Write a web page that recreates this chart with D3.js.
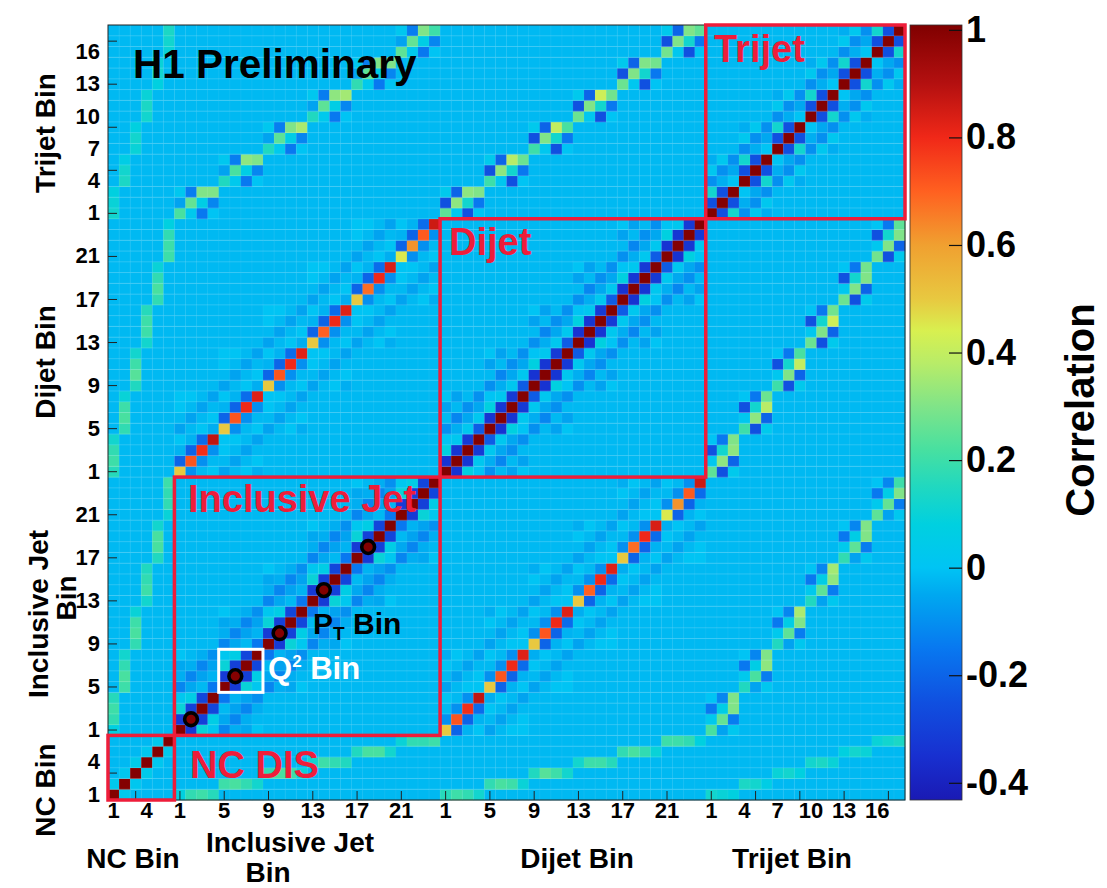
<!DOCTYPE html>
<html lang="en">
<head>
<meta charset="UTF-8">
<style>
  body { margin: 0; background: #fff; overflow: hidden; }
  svg { display: block; }
  text { font-family: "Liberation Sans", Arial, Helvetica, sans-serif; font-weight: bold; }
</style>
</head>
<body>
<svg id="chart" width="1107" height="888"></svg>
<script src="https://cdnjs.cloudflare.com/ajax/libs/d3/7.8.5/d3.min.js"></script>
<script>
// ---- data ----
const blockNames = ["NC", "Inclusive Jet", "Dijet", "Trijet"];
const blockSizes = [6, 24, 24, 18];
const blockGroup = [1, 4, 4, 3];   // pT bins inside one Q2 bin
const nQ2 = 6;
const background = -0.02;

// tick labels (global bin index -> label)
const tickBins = [0, 3, 6, 10, 14, 18, 22, 26, 30, 34, 38, 42, 46, 50, 54, 57, 60, 63, 66, 69];
const tickLabels = ["1", "4", "1", "5", "9", "13", "17", "21", "1", "5", "9", "13", "17", "21", "1", "4", "7", "10", "13", "16"];
const tickMarkBins = [2, 6, 10, 14, 18, 22, 26, 30, 34, 38, 42, 46, 50, 54, 58, 62, 66, 70];

// NC DIS neighbours (i, i+1)
const ncNeighbour = [0.03, 0.02, 0.04, 0.02, 0.03];

// within one Q2 bin / between neighbouring Q2 bins
const inclSameQ2 = [[1, -0.32, 0.10, 0.02], [-0.32, 1, -0.30, 0.06], [0.10, -0.30, 1, -0.28], [0.02, 0.06, -0.28, 1]];
const inclNextQ2 = [[-0.12, -0.04, -0.05, 0.00], [-0.05, -0.12, -0.04, -0.02], [-0.02, -0.06, -0.12, -0.04], [-0.15, -0.03, -0.06, -0.10]];
const dijetSameQ2 = [[1, -0.34, 0.08, 0.00], [-0.34, 1, -0.33, 0.02], [0.08, -0.33, 1, -0.32], [0.00, 0.02, -0.32, 1]];
const dijetNextQ2 = [[-0.10, -0.02, -0.06, 0.00], [-0.04, -0.12, -0.02, -0.06], [0.02, -0.05, -0.10, -0.02], [-0.22, 0.02, -0.05, -0.10]];
const trijetSameQ2 = [[1, -0.25, 0.12], [-0.25, 1, -0.25], [0.12, -0.25, 1]];
const trijetNextQ2 = [[-0.10, 0.02, -0.04], [-0.04, -0.10, 0.02], [0.00, -0.05, -0.10]];

// inclusive jet vs dijet
const inclDijetDiag = [0.50, 0.72, 0.79, 0.88, 0.50, 0.72, 0.80, 0.83, 0.50, 0.72, 0.80, 0.83,
                       0.50, 0.70, 0.80, 0.83, 0.50, 0.68, 0.80, 0.84, 0.45, 0.62, 0.71, 0.86];
const inclDijetSameQ2 = [[null, -0.20, -0.03, 0.00], [-0.10, null, -0.20, -0.03], [-0.02, -0.10, null, -0.18], [0.00, -0.02, -0.10, null]];
const inclDijetNextQ2 = [[-0.06, -0.02, 0.00, 0.00], [-0.02, -0.06, -0.02, 0.00], [0.00, -0.02, -0.06, -0.02], [-0.04, 0.00, -0.02, -0.06]];

// inclusive jet vs trijet, dijet vs trijet (null = main cell, value from *Main)
const inclTrijetSameQ2 = [[null, -0.06, 0.02], [0.03, null, -0.14], [-0.15, 0.06, null], [0.00, -0.12, null]];
const inclTrijetMain = [0.22, 0.26, 0.30, 0.30, 0.15, 0.22, 0.32, 0.30, 0.15, 0.25, 0.30, 0.36,
                        0.15, 0.25, 0.32, 0.35, 0.18, 0.25, 0.30, 0.30, 0.25, 0.26, 0.30, 0.20];
const dijetTrijetSameQ2 = [[null, -0.25, 0.03], [0.02, null, -0.20], [-0.25, 0.12, null], [0.00, -0.15, null]];
const dijetTrijetMain = [0.25, 0.32, 0.32, 0.30, 0.20, 0.32, 0.38, 0.27, 0.20, 0.30, 0.40, 0.22,
                         0.27, 0.30, 0.42, 0.28, 0.27, 0.30, 0.30, 0.28, 0.28, 0.30, 0.30, 0.25];

// NC DIS vs jets (row = NC bin, col = pT bin of the same Q2 bin)
const ncIncl = [[0.08, 0.18, 0.20, 0.16], [0.20, 0.22, 0.18, 0.12], [0.18, 0.22, 0.20, 0.10],
                [0.12, 0.20, 0.18, 0.15], [0.15, 0.22, 0.22, 0.12], [0.10, 0.18, 0.18, 0.20]];
const ncDijet = [[0.16, 0.20, 0.18, 0.12], [0.18, 0.22, 0.20, 0.10], [0.15, 0.24, 0.20, 0.12],
                 [0.12, 0.20, 0.20, 0.16], [0.18, 0.22, 0.18, 0.10], [0.20, 0.20, 0.18, 0.08]];
const ncTrijet = [[0.12, 0.10, 0.08], [0.14, 0.12, 0.06], [0.10, 0.12, 0.08],
                  [0.12, 0.14, 0.10], [0.08, 0.12, 0.10], [0.10, 0.12, 0.14]];

// colour palette
const paletteValues = [-0.432, -0.35, -0.25, -0.15, -0.05, 0.0, 0.08, 0.15, 0.22, 0.30, 0.38, 0.44, 0.50, 0.60, 0.70, 0.80, 0.90, 1.009];
const paletteColours = ["#1a1ab4", "#1830d0", "#1050e0", "#0878f0", "#00a8f0", "#00c4f4", "#00d0e0", "#20d8c0", "#48e0a0",
                        "#80e488", "#b8ec68", "#d8f050", "#e8c840", "#f0a030", "#ff6020", "#f02818", "#b41010", "#800000"];
const colourTicks = [1, 0.8, 0.6, 0.4, 0.2, 0, -0.2, -0.4];

const circledInclBins = [2, 6, 10, 14, 18];
const q2BoxInclBins = [5, 8];

// ---- build the matrix ----
const starts = [0, ...d3.cumsum(blockSizes)].slice(0, 4);
const nBins = d3.sum(blockSizes);
const matrix = d3.range(nBins).map(() => new Array(nBins).fill(background));
function put(a, b, v) { matrix[a][b] = v; matrix[b][a] = v; }

d3.range(nBins).forEach(i => put(i, i, 1));
ncNeighbour.forEach((v, i) => put(i, i + 1, v));

[[1, inclSameQ2, inclNextQ2], [2, dijetSameQ2, dijetNextQ2], [3, trijetSameQ2, trijetNextQ2]].forEach(([b, same, next]) => {
    const g = blockGroup[b], s = starts[b];
    for (let q = 0; q < nQ2; q++) {
        for (let p = 0; p < g; p++) {
            for (let r = 0; r < g; r++) {
                if (p !== r) put(s + q * g + p, s + q * g + r, same[p][r]);
                if (q < nQ2 - 1) put(s + q * g + p, s + (q + 1) * g + r, next[p][r]);
            }
        }
    }
});

function crossBlock(bA, bB, same, main, next) {
    const gA = blockGroup[bA], gB = blockGroup[bB], sA = starts[bA], sB = starts[bB];
    let m = 0;
    for (let q = 0; q < nQ2; q++) {
        for (let p = 0; p < gA; p++) {
            for (let r = 0; r < gB; r++) {
                const t = same[p][r];
                put(sA + q * gA + p, sB + q * gB + r, t === null ? main[m++] : t);
                if (next && q < nQ2 - 1) {
                    put(sA + q * gA + p, sB + (q + 1) * gB + r, next[p][r]);
                    put(sB + q * gB + r, sA + (q + 1) * gA + p, next[p][r]);
                }
            }
        }
    }
}
crossBlock(1, 2, inclDijetSameQ2, inclDijetDiag, inclDijetNextQ2);
crossBlock(1, 3, inclTrijetSameQ2, inclTrijetMain, null);
crossBlock(2, 3, dijetTrijetSameQ2, dijetTrijetMain, null);

for (let q = 0; q < nQ2; q++) {
    ncIncl[q].forEach((v, p) => put(q, starts[1] + q * 4 + p, v));
    ncDijet[q].forEach((v, p) => put(q, starts[2] + q * 4 + p, v));
    ncTrijet[q].forEach((v, p) => put(q, starts[3] + q * 3 + p, v));
}

const cells = [];
matrix.forEach((row, i) => row.forEach((v, j) => cells.push({ i, j, v })));

// ---- drawing ----
const svg = d3.select("#chart");
const plotLeft = 108, plotRight = 905, plotTop = 25, plotBottom = 800;
const red = "#ee1d3a";

const x = d3.scaleBand().domain(d3.range(nBins)).range([plotLeft, plotRight]);
const y = d3.scaleBand().domain(d3.range(nBins)).range([plotBottom, plotTop]);
const colour = d3.scaleLinear().domain(paletteValues).range(paletteColours).clamp(true);

svg.append("g")
    .selectAll("rect")
    .data(cells)
    .join("rect")
    .attr("x", d => x(d.j))
    .attr("y", d => y(d.i))
    .attr("width", x.bandwidth() + 0.3)
    .attr("height", y.bandwidth() + 0.3)
    .attr("fill", d => colour(d.v));

// faint cell seams
const seams = svg.append("g").attr("stroke", "#fff");
seams.selectAll("line.h")
    .data(d3.range(1, nBins))
    .join("line")
    .attr("class", "h")
    .attr("x1", plotLeft).attr("x2", plotRight)
    .attr("y1", d => y(d) + y.bandwidth()).attr("y2", d => y(d) + y.bandwidth())
    .attr("stroke-opacity", 0.22).attr("stroke-width", 0.8);
seams.selectAll("line.v")
    .data(d3.range(1, nBins))
    .join("line")
    .attr("class", "v")
    .attr("y1", plotTop).attr("y2", plotBottom)
    .attr("x1", d => x(d)).attr("x2", d => x(d))
    .attr("stroke-opacity", 0.08).attr("stroke-width", 0.8);

// frame
svg.append("rect")
    .attr("x", plotLeft).attr("y", plotTop)
    .attr("width", plotRight - plotLeft).attr("height", plotBottom - plotTop)
    .attr("fill", "none").attr("stroke", "#222").attr("stroke-width", 1);

// axes: labels
const half = x.bandwidth() / 2;
const xLabelAxis = d3.axisBottom(x).tickValues(tickBins).tickFormat((d, i) => tickLabels[i]).tickSize(0).tickPadding(2);
const yLabelAxis = d3.axisLeft(y).tickValues(tickBins).tickFormat((d, i) => tickLabels[i]).tickSize(0).tickPadding(8);
svg.append("g").attr("transform", `translate(0,${plotBottom})`).call(xLabelAxis)
    .call(g => g.select(".domain").remove())
    .selectAll("text").attr("font-size", 22).attr("font-family", null).attr("fill", "#000");
svg.append("g").attr("transform", `translate(${plotLeft},0)`).call(yLabelAxis)
    .call(g => g.select(".domain").remove())
    .selectAll("text").attr("font-size", 22).attr("font-family", null).attr("fill", "#000");

// axes: tick marks inside the frame
svg.append("g").attr("transform", `translate(0,${plotBottom})`)
    .call(d3.axisBottom(x).tickValues(tickMarkBins).tickFormat("").tickSizeInner(-9).tickSizeOuter(0))
    .call(g => g.select(".domain").remove())
    .selectAll("line").attr("stroke", "#222");
svg.append("g").attr("transform", `translate(${plotLeft},0)`)
    .call(d3.axisLeft(y).tickValues(tickMarkBins).tickFormat("").tickSizeInner(-9).tickSizeOuter(0))
    .call(g => g.select(".domain").remove())
    .selectAll("line").attr("stroke", "#222");

// red block boxes
const blockLabels = [
    { text: "NC DIS", x: 190, y: 778 },
    { text: "Inclusive Jet", x: 188, y: 512 },
    { text: "Dijet", x: 449, y: 255 },
    { text: "Trijet", x: 714, y: 62 }
];
blockSizes.forEach((n, b) => {
    const a = starts[b], e = a + n - 1;
    svg.append("rect")
        .attr("x", x(a)).attr("y", y(e))
        .attr("width", x(e) + x.bandwidth() - x(a))
        .attr("height", y(a) + y.bandwidth() - y(e))
        .attr("fill", "none").attr("stroke", red).attr("stroke-width", 3.5);
});
svg.append("g").selectAll("text")
    .data(blockLabels)
    .join("text")
    .attr("x", d => d.x).attr("y", d => d.y)
    .attr("font-size", 38).attr("fill", red)
    .text(d => d.text);

// highlighted inclusive jet bins
svg.append("g").selectAll("circle")
    .data(circledInclBins)
    .join("circle")
    .attr("cx", d => x(starts[1] + d - 1) + half)
    .attr("cy", d => y(starts[1] + d - 1) + y.bandwidth() / 2)
    .attr("r", 6.4)
    .attr("fill", "none").attr("stroke", "#000").attr("stroke-width", 3.6);

const qa = starts[1] + q2BoxInclBins[0] - 1, qb = starts[1] + q2BoxInclBins[1] - 1;
svg.append("rect")
    .attr("x", x(qa)).attr("y", y(qb))
    .attr("width", x(qb) + x.bandwidth() - x(qa))
    .attr("height", y(qa) + y.bandwidth() - y(qb))
    .attr("fill", "none").attr("stroke", "#fff").attr("stroke-width", 3);

const pt = svg.append("text").attr("x", 313).attr("y", 634).attr("font-size", 30).attr("fill", "#000");
pt.append("tspan").text("P");
pt.append("tspan").attr("font-size", 19).attr("dy", 6).text("T");
pt.append("tspan").attr("dy", -6).text(" Bin");

const q2 = svg.append("text").attr("x", 268).attr("y", 679).attr("font-size", 31).attr("fill", "#fff");
q2.append("tspan").text("Q");
q2.append("tspan").attr("font-size", 17).attr("dy", -12).text("2");
q2.append("tspan").attr("dy", 12).text(" Bin");

svg.append("text").attr("x", 133).attr("y", 78).attr("font-size", 40.5).attr("fill", "#000").text("H1 Preliminary");

// axis titles
const bottomTitles = [
    { text: "NC Bin", x: 133, y: 868 },
    { text: "Inclusive Jet", x: 290, y: 852 },
    { text: "Bin", x: 268, y: 882 },
    { text: "Dijet Bin", x: 577, y: 868 },
    { text: "Trijet Bin", x: 792, y: 868 }
];
svg.append("g").selectAll("text")
    .data(bottomTitles)
    .join("text")
    .attr("x", d => d.x).attr("y", d => d.y)
    .attr("text-anchor", "middle").attr("font-size", 28)
    .text(d => d.text);

const leftTitles = [
    { text: "Trijet Bin", x: 45, y: 133 },
    { text: "Dijet Bin", x: 45, y: 362 },
    { text: "Inclusive Jet", x: 38, y: 614 },
    { text: "Bin", x: 66, y: 598 },
    { text: "NC Bin", x: 45, y: 790 }
];
svg.append("g").selectAll("text")
    .data(leftTitles)
    .join("text")
    .attr("transform", d => `translate(${d.x},${d.y}) rotate(-90)`)
    .attr("text-anchor", "middle").attr("dominant-baseline", "central").attr("font-size", 28)
    .text(d => d.text);

// colour bar
const barX = 910, barW = 52;
const cScale = d3.scaleLinear().domain([paletteValues[0], paletteValues[paletteValues.length - 1]]).range([plotBottom, plotTop]);
const grad = svg.append("defs").append("linearGradient")
    .attr("id", "palette").attr("x1", 0).attr("y1", 1).attr("x2", 0).attr("y2", 0);
grad.selectAll("stop")
    .data(paletteValues)
    .join("stop")
    .attr("offset", d => (d - paletteValues[0]) / (paletteValues[paletteValues.length - 1] - paletteValues[0]))
    .attr("stop-color", (d, i) => paletteColours[i]);
svg.append("rect")
    .attr("x", barX).attr("y", plotTop).attr("width", barW).attr("height", plotBottom - plotTop)
    .attr("fill", "url(#palette)").attr("stroke", "#333").attr("stroke-width", 0.8);
svg.append("g").attr("transform", `translate(${barX + barW},0)`)
    .call(d3.axisRight(cScale).tickValues(colourTicks).tickFormat(d => String(d)).tickSizeInner(-13).tickSizeOuter(0).tickPadding(4))
    .call(g => g.select(".domain").remove())
    .call(g => g.selectAll("line").attr("stroke", "#111").attr("stroke-width", 1.2))
    .selectAll("text").attr("font-size", 36).attr("font-family", null).attr("fill", "#000");

svg.append("text")
    .attr("transform", "translate(1080,410) rotate(-90)")
    .attr("text-anchor", "middle").attr("dominant-baseline", "central")
    .attr("font-size", 40)
    .text("Correlation");
</script>
</body>
</html>
